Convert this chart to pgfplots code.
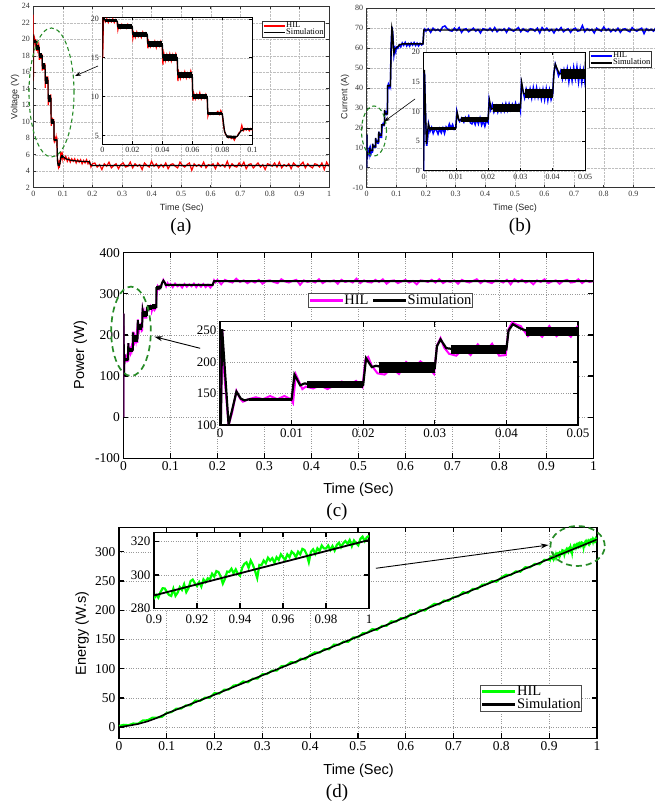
\documentclass[border=0pt]{standalone}
\usepackage{fontspec}
\setmainfont{Liberation Serif}
\setsansfont{Liberation Sans}
\usepackage{pgfplots}
\pgfplotsset{compat=1.18}
\usepackage{pgfplotstable}
\usetikzlibrary{arrows.meta}
\definecolor{ellg}{RGB}{40,140,40}
\definecolor{hilr}{RGB}{255,0,0}
\definecolor{hilb}{RGB}{0,0,255}
\definecolor{hilm}{RGB}{255,0,255}
\definecolor{hilg}{RGB}{0,255,0}

\pgfplotsset{
  base/.style={scale only axis, anchor=south west,
    scaled ticks=false,
    /pgf/number format/assume math mode=true,
    /pgf/number format/fixed,
    /pgf/number format/precision=3,
    xticklabel={\pgfmathprintnumber{\tick}},
    yticklabel={\pgfmathprintnumber{\tick}},
    tick align=inside, grid=major,
    axis background/.style={fill=white},
    legend cell align=left},
  smallax/.style={base,
    axis line style={black!80, line width=0.5pt},
    tick style={black!80, line width=0.5pt},
    major tick length=3pt,
    tick label style={font=\rmfamily\fontsize{8}{9}\selectfont, text=black!80},
    grid style={densely dotted, black!25, line width=0.4pt},
    every axis x label/.append style={font=\sffamily\fontsize{9}{10}\selectfont, text=black!85},
    every axis y label/.append style={font=\sffamily\fontsize{9}{10}\selectfont, text=black!85},
    legend style={font=\rmfamily\fontsize{8.5}{9}\selectfont, draw=black!80, line width=0.6pt, inner sep=0.6pt, row sep=-1.5pt, nodes={inner sep=0.6pt, text depth=0.15em}},
    legend image code/.code={\draw[##1] (0pt,0pt) -- (21pt,0pt);}},
  smallin/.style={base,
    axis line style={black, line width=0.8pt},
    tick style={black, line width=0.6pt},
    major tick length=3pt,
    tick label style={font=\rmfamily\fontsize{8}{9}\selectfont, text=black!85},
    grid style={densely dotted, black!25, line width=0.4pt}},
  bigax/.style={base,
    axis line style={black, line width=1.4pt},
    tick style={black, line width=1.2pt},
    major tick length=5pt,
    tick label style={font=\rmfamily\fontsize{13.5}{14}\selectfont},
    grid style={dotted, black!40, line width=0.5pt},
    every axis x label/.append style={font=\sffamily\fontsize{14.5}{16}\selectfont},
    every axis y label/.append style={font=\sffamily\fontsize{14.5}{16}\selectfont},
    legend style={font=\rmfamily\fontsize{14.5}{15}\selectfont, draw=black!70, line width=0.9pt, inner sep=0.5pt, row sep=1pt, nodes={inner sep=0.4pt, text depth=0.15em}},
    legend image code/.code={\draw[##1] (0pt,0pt) -- (33pt,0pt);}},
  bigin/.style={base,
    axis line style={black, line width=1.4pt},
    tick style={black, line width=1.2pt},
    major tick length=5pt,
    tick label style={font=\rmfamily\fontsize{13}{14}\selectfont},
    grid style={dotted, black!40, line width=0.5pt}},
}

\newcommand{\bandA}{%
\addplot[black,line width=3pt,forget plot] coordinates {(0.0015,19.75)(0.0100,19.75)};
\addplot[black,line width=4.5pt,forget plot] coordinates {(0.0103,19.0)(0.0200,19.0)};
\addplot[black,line width=5pt,forget plot] coordinates {(0.0203,18.0)(0.0300,18.0)};
\addplot[black,line width=6pt,forget plot] coordinates {(0.0303,16.75)(0.0400,16.75)};
\addplot[black,line width=6.5pt,forget plot] coordinates {(0.0403,15.0)(0.0500,15.0)};
\addplot[black,line width=6.5pt,forget plot] coordinates {(0.0503,12.8)(0.0600,12.8)};
\addplot[black,line width=5.5pt,forget plot] coordinates {(0.0603,10.0)(0.0700,10.0)};
\addplot[black,line width=2.5pt,forget plot] coordinates {(0.0703,7.8)(0.0800,7.8)};
\addplot[black,line width=2.5pt,forget plot] coordinates {(0.083,4.85)(0.089,4.75)};
\addplot[black,line width=2.5pt,forget plot] coordinates {(0.094,5.8)(0.100,5.8)};
}
\newcommand{\bandB}{%
\addplot[black,line width=3.3pt,forget plot] coordinates {(0.002,7.15)(0.0100,7.15)};
\addplot[black,line width=5pt,forget plot] coordinates {(0.0115,8.7)(0.0200,8.7)};
\addplot[black,line width=7.4pt,forget plot] coordinates {(0.0215,10.6)(0.0300,10.6)};
\addplot[black,line width=9pt,forget plot] coordinates {(0.0315,13.0)(0.0400,13.0)};
\addplot[black,line width=10pt,forget plot] coordinates {(0.0425,16.3)(0.0500,16.3)};
}
\newcommand{\bandC}{%
\addplot[black,line width=3.3pt,forget plot] coordinates {(0.004,140.7)(0.0100,140.7)};
\addplot[black,line width=7pt,forget plot] coordinates {(0.0122,164)(0.0200,164)};
\addplot[black,line width=10.5pt,forget plot] coordinates {(0.0222,191)(0.0300,191)};
\addplot[black,line width=9.5pt,forget plot] coordinates {(0.0322,220)(0.0400,220)};
\addplot[black,line width=9pt,forget plot] coordinates {(0.0428,249)(0.0500,249)};
}
\newcommand{\bandCmain}{%
\addplot[black,line width=2.5pt,forget plot] coordinates {(0.003,140.7)(0.0100,140.7)};
\addplot[black,line width=4.2pt,forget plot] coordinates {(0.0112,164)(0.0200,164)};
\addplot[black,line width=6.5pt,forget plot] coordinates {(0.0212,191)(0.0300,191)};
\addplot[black,line width=6.2pt,forget plot] coordinates {(0.0315,220)(0.0400,220)};
\addplot[black,line width=5.8pt,forget plot] coordinates {(0.0420,250)(0.0500,250)};
\addplot[black,line width=5pt,forget plot] coordinates {(0.0503,266)(0.0600,266)};
\addplot[black,line width=5pt,forget plot] coordinates {(0.0603,268)(0.0700,268)};
\addplot[black,line width=4pt,forget plot] coordinates {(0.0703,314)(0.0800,316)};
}

\begin{document}

\pgfplotstableread[row sep=\\]{x y\\
0 23\\ 0.0003 15\\ 0.0008 20.4\\ 0.0015 20.0\\ 0.002 19.6\\ 0.003 20.0\\ 0.004 19.5\\ 0.005 19.9\\ 0.006 19.6\\ 0.007 20.0\\ 0.008 19.5\\ 0.009 19.9\\ 0.0099 19.6\\
0.0104 18.6\\ 0.011 19.2\\ 0.012 18.8\\ 0.013 19.3\\ 0.014 18.9\\ 0.015 19.2\\ 0.016 18.8\\ 0.017 19.3\\ 0.018 18.9\\ 0.019 19.2\\ 0.0199 18.9\\
0.0204 17.5\\ 0.021 18.2\\ 0.022 17.6\\ 0.023 18.3\\ 0.024 17.7\\ 0.025 18.1\\ 0.026 17.6\\ 0.027 18.3\\ 0.028 17.8\\ 0.029 18.2\\ 0.0299 17.9\\
0.0304 16.2\\ 0.031 17.1\\ 0.032 16.4\\ 0.033 16.9\\ 0.034 16.5\\ 0.035 17.1\\ 0.036 16.3\\ 0.037 17.0\\ 0.038 16.5\\ 0.039 17.1\\ 0.0399 16.6\\
0.0404 14.1\\ 0.041 15.6\\ 0.042 14.6\\ 0.043 15.4\\ 0.044 14.7\\ 0.045 15.5\\ 0.046 14.6\\ 0.047 15.4\\ 0.048 14.8\\ 0.049 15.5\\ 0.0499 14.9\\
0.0504 12.0\\ 0.051 13.1\\ 0.052 12.3\\ 0.053 13.0\\ 0.054 12.5\\ 0.055 13.2\\ 0.056 12.4\\ 0.057 13.0\\ 0.058 12.5\\ 0.059 13.3\\ 0.0599 12.7\\
0.0604 9.5\\ 0.061 10.4\\ 0.062 9.7\\ 0.063 10.3\\ 0.064 9.8\\ 0.065 10.5\\ 0.066 9.7\\ 0.067 10.2\\ 0.068 9.8\\ 0.069 10.3\\ 0.0699 9.9\\
0.0704 7.5\\ 0.071 7.9\\ 0.072 7.7\\ 0.073 7.9\\ 0.074 7.7\\ 0.075 7.8\\ 0.076 7.9\\ 0.077 8.1\\ 0.078 7.7\\ 0.079 8.2\\ 0.0799 7.8\\
0.081 6.0\\ 0.082 5.2\\ 0.083 4.9\\ 0.084 4.7\\ 0.085 4.9\\ 0.086 4.6\\ 0.087 4.8\\ 0.088 4.4\\ 0.089 4.8\\ 0.090 4.9\\ 0.091 5.3\\ 0.092 5.5\\ 0.093 6.3\\ 0.094 5.6\\ 0.095 5.9\\ 0.096 5.7\\ 0.097 5.9\\ 0.098 5.6\\ 0.099 5.9\\ 0.100 5.7\\
0.105 5.4\\ 0.110 5.8\\ 0.115 5.2\\ 0.120 5.6\\ 0.125 5.1\\ 0.130 5.5\\ 0.135 5.2\\ 0.140 5.5\\ 0.145 5.0\\ 0.150 5.4\\ 0.155 5.1\\ 0.160 5.4\\ 0.165 4.9\\ 0.170 5.3\\ 0.175 5.0\\ 0.180 5.4\\ 0.185 4.9\\ 0.190 5.2\\ 0.195 4.5\\ 0.200 4.9\\
0.208 5.0\\ 0.216 4.5\\ 0.224 4.8\\ 0.232 4.2\\ 0.240 4.9\\ 0.248 4.6\\ 0.256 5.1\\ 0.264 4.4\\ 0.272 4.7\\ 0.280 4.9\\
0.288 4.3\\ 0.296 4.8\\ 0.304 5.0\\ 0.312 4.5\\ 0.320 4.6\\ 0.328 5.1\\ 0.336 4.4\\ 0.344 4.9\\ 0.352 4.6\\ 0.360 4.8\\
0.368 4.2\\ 0.376 5.0\\ 0.384 4.7\\ 0.392 4.5\\ 0.400 5.2\\ 0.408 4.6\\ 0.416 4.9\\ 0.424 4.4\\ 0.432 4.8\\ 0.440 4.5\\
0.448 5.0\\ 0.456 4.3\\ 0.464 4.8\\ 0.472 4.9\\ 0.480 4.6\\ 0.488 4.4\\ 0.496 5.1\\ 0.504 4.7\\ 0.512 4.5\\ 0.520 4.8\\
0.528 5.0\\ 0.536 4.1\\ 0.544 4.9\\ 0.552 4.6\\ 0.560 4.8\\ 0.568 4.5\\ 0.576 5.1\\ 0.584 4.4\\ 0.592 4.8\\ 0.600 4.7\\
0.608 4.9\\ 0.616 4.3\\ 0.624 5.0\\ 0.632 4.6\\ 0.640 4.8\\ 0.648 4.5\\ 0.656 5.2\\ 0.664 4.4\\ 0.672 4.9\\ 0.680 4.6\\
0.688 4.5\\ 0.696 5.0\\ 0.704 4.6\\ 0.712 5.1\\ 0.720 4.3\\ 0.728 4.8\\ 0.736 4.9\\ 0.744 4.4\\ 0.752 4.7\\ 0.760 5.0\\
0.768 4.5\\ 0.776 4.8\\ 0.784 4.2\\ 0.792 4.9\\ 0.800 4.8\\ 0.808 4.6\\ 0.816 5.0\\ 0.824 4.5\\ 0.832 5.1\\ 0.840 4.4\\
0.848 4.8\\ 0.856 4.6\\ 0.864 4.9\\ 0.872 4.3\\ 0.880 5.0\\ 0.888 4.7\\ 0.896 4.5\\ 0.904 4.8\\ 0.912 5.1\\ 0.920 4.4\\
0.928 4.9\\ 0.936 4.6\\ 0.944 4.4\\ 0.952 4.9\\ 0.960 4.8\\ 0.968 4.5\\ 0.976 5.0\\ 0.984 4.2\\ 0.992 5.1\\ 1.000 4.6\\
}\hilA

\pgfplotstableread[row sep=\\]{x y\\
0 15\\ 0.0006 20.6\\ 0.0015 19.9\\ 0.003 19.7\\ 0.0100 19.7\\ 0.0103 19.0\\ 0.0200 19.0\\ 0.0203 18.0\\ 0.0300 18.0\\ 0.0303 16.8\\ 0.0400 16.8\\ 0.0403 15.0\\ 0.0500 15.0\\ 0.0503 12.8\\ 0.0600 12.8\\ 0.0603 10.0\\ 0.0700 10.0\\ 0.0703 7.8\\ 0.0800 7.8\\ 0.0815 5.5\\ 0.083 4.9\\ 0.086 4.75\\ 0.088 4.7\\ 0.090 4.9\\ 0.0925 5.6\\ 0.095 5.8\\ 0.100 5.8\\ 0.110 5.5\\ 0.130 5.3\\ 0.160 5.2\\ 0.190 5.15\\ 0.193 4.8\\ 0.200 4.7\\ 1 4.7\\
}\simA

\pgfplotstableread[row sep=\\]{x y\\
0 0\\ 0.0003 16.5\\ 0.0007 8\\ 0.001 4.2\\ 0.0013 5.5\\ 0.0016 7.8\\ 0.002 6.6\\ 0.0025 7.3\\ 0.003 6.3\\ 0.0035 7.0\\ 0.004 6.9\\ 0.0045 6.2\\ 0.005 7.1\\ 0.0055 6.4\\ 0.006 7.2\\ 0.0065 6.3\\ 0.007 7.4\\ 0.0075 7.0\\ 0.008 7.9\\ 0.0085 7.2\\ 0.009 7.8\\ 0.0095 7.0\\ 0.0100 7.3\\
0.0103 10.0\\ 0.0108 8.7\\ 0.0112 8.3\\ 0.0118 8.9\\ 0.0125 8.2\\ 0.013 9.0\\ 0.0135 8.5\\ 0.014 9.2\\ 0.0145 8.1\\ 0.015 7.9\\ 0.0155 8.6\\ 0.016 7.8\\ 0.0165 8.7\\ 0.017 7.9\\ 0.0175 8.9\\ 0.018 7.7\\ 0.0185 8.4\\ 0.019 7.5\\ 0.0195 8.5\\ 0.0200 8.1\\
0.0203 11.9\\ 0.0208 10.3\\ 0.0213 11.2\\ 0.0218 9.9\\ 0.0225 10.9\\ 0.023 9.9\\ 0.0235 10.8\\ 0.024 10.0\\ 0.0245 11.1\\ 0.025 10.1\\ 0.0255 11.3\\ 0.026 10.2\\ 0.0265 11.3\\ 0.027 10.3\\ 0.0275 11.2\\ 0.028 10.4\\ 0.0285 11.4\\ 0.029 10.3\\ 0.0295 11.1\\ 0.0300 10.0\\
0.0303 14.8\\ 0.0308 13.4\\ 0.0313 12.3\\ 0.0318 13.8\\ 0.0325 12.5\\ 0.033 13.8\\ 0.0335 12.3\\ 0.034 14.0\\ 0.0345 12.5\\ 0.035 14.0\\ 0.0355 12.4\\ 0.036 13.6\\ 0.0365 12.1\\ 0.037 13.7\\ 0.0375 12.0\\ 0.038 13.8\\ 0.0385 11.9\\ 0.039 13.6\\ 0.0395 12.0\\ 0.0400 12.9\\
0.0403 16.2\\ 0.0408 18.0\\ 0.0413 17.1\\ 0.0418 16.0\\ 0.0425 16.9\\ 0.043 15.5\\ 0.0435 17.0\\ 0.044 15.7\\ 0.0445 17.2\\ 0.045 15.0\\ 0.0455 16.9\\ 0.046 15.2\\ 0.0465 17.4\\ 0.047 15.6\\ 0.0475 17.5\\ 0.048 15.0\\ 0.0485 17.1\\ 0.049 14.9\\ 0.0495 16.9\\ 0.0500 14.8\\
0.052 21.0\\ 0.055 22.0\\ 0.058 21.3\\ 0.060 22.5\\ 0.0605 28.5\\ 0.062 27.0\\ 0.065 27.8\\ 0.068 26.8\\ 0.070 27.5\\ 0.0705 40.5\\ 0.073 41.8\\ 0.076 40.2\\ 0.079 41.5\\ 0.080 41.0\\ 0.082 60\\ 0.085 70.5\\ 0.0875 68.0\\ 0.090 62\\ 0.092 56.5\\ 0.095 59.5\\ 0.098 58\\ 0.100 60.5\\
0.105 59.8\\ 0.110 61.5\\ 0.115 60.5\\ 0.120 62.5\\ 0.125 61.3\\ 0.130 62.8\\ 0.135 61.0\\ 0.140 62.2\\ 0.145 60.9\\ 0.150 62.5\\ 0.155 61.4\\ 0.160 62.7\\ 0.165 61.2\\ 0.170 62.4\\ 0.175 61.0\\ 0.180 62.3\\ 0.185 61.5\\ 0.190 62.0\\ 0.193 68.8\\ 0.196 69.5\\ 0.200 68.4\\
0.208 69.6\\ 0.216 67.8\\ 0.224 69.9\\ 0.232 68.7\\ 0.240 69.3\\ 0.248 68.4\\ 0.256 70.5\\ 0.264 71.0\\ 0.272 69.6\\ 0.280 68.7\\
0.288 68.4\\ 0.296 69.9\\ 0.304 68.7\\ 0.312 70.2\\ 0.320 67.8\\ 0.328 69.3\\ 0.336 69.6\\ 0.344 68.1\\ 0.352 69.0\\ 0.360 69.9\\
0.368 68.4\\ 0.376 69.3\\ 0.384 67.5\\ 0.392 69.6\\ 0.400 69.3\\ 0.408 68.7\\ 0.416 69.9\\ 0.424 68.4\\ 0.432 70.2\\ 0.440 68.1\\
0.448 69.3\\ 0.456 68.7\\ 0.464 69.6\\ 0.472 67.8\\ 0.480 69.9\\ 0.488 69.0\\ 0.496 68.4\\ 0.504 69.3\\ 0.512 70.2\\ 0.520 68.1\\
0.528 69.6\\ 0.536 68.7\\ 0.544 68.1\\ 0.552 69.6\\ 0.560 69.3\\ 0.568 68.4\\ 0.576 69.9\\ 0.584 67.5\\ 0.592 70.2\\ 0.600 68.7\\
0.608 69.9\\ 0.616 68.4\\ 0.624 69.3\\ 0.632 67.5\\ 0.640 69.6\\ 0.648 68.7\\ 0.656 70.2\\ 0.664 68.1\\ 0.672 69.0\\ 0.680 69.6\\
0.688 67.8\\ 0.696 69.3\\ 0.704 69.9\\ 0.712 68.4\\ 0.720 68.7\\ 0.728 71.2\\ 0.736 68.1\\ 0.744 69.6\\ 0.752 68.7\\ 0.760 69.3\\
0.768 67.5\\ 0.776 69.9\\ 0.784 69.0\\ 0.792 68.4\\ 0.800 70.5\\ 0.808 68.7\\ 0.816 69.6\\ 0.824 68.1\\ 0.832 69.3\\ 0.840 68.4\\
0.848 69.9\\ 0.856 67.8\\ 0.864 69.3\\ 0.872 69.6\\ 0.880 68.7\\ 0.888 68.1\\ 0.896 70.2\\ 0.904 69.0\\ 0.912 68.4\\ 0.920 69.3\\
0.928 69.9\\ 0.936 67.2\\ 0.944 69.6\\ 0.952 68.7\\ 0.960 69.3\\ 0.968 68.4\\ 0.976 70.2\\ 0.984 68.1\\ 0.992 69.3\\ 1.000 69.0\\
}\hilB

\pgfplotstableread[row sep=\\]{x y\\
0 0\\ 0.0003 17\\ 0.0009 4.5\\ 0.0015 7.9\\ 0.002 6.9\\ 0.003 7.15\\ 0.0100 7.15\\ 0.0104 9.9\\ 0.011 8.5\\ 0.012 8.7\\ 0.0200 8.7\\ 0.0204 12.0\\ 0.021 10.4\\ 0.022 10.6\\ 0.0300 10.6\\ 0.0304 14.9\\ 0.031 13.0\\ 0.0400 13.0\\ 0.0404 16.5\\ 0.0408 18.0\\ 0.042 16.4\\ 0.043 16.3\\ 0.0500 16.3\\
0.0503 21.5\\ 0.060 21.5\\ 0.0603 29\\ 0.062 27\\ 0.070 27\\ 0.0703 41\\ 0.080 41\\ 0.082 55\\ 0.085 70\\ 0.0875 68\\ 0.090 60\\ 0.092 57.5\\ 0.095 59.5\\ 0.100 60\\ 0.110 61.5\\ 0.120 62\\ 0.190 62\\ 0.193 69\\ 1 69\\
}\simB

\pgfplotstableread[row sep=\\]{x y\\
0 0\\ 0.0003 252\\ 0.0006 180\\ 0.0012 100\\ 0.0017 120\\ 0.0023 154\\ 0.0028 142\\ 0.0032 137\\ 0.004 141\\ 0.005 144\\ 0.006 141\\ 0.007 146\\ 0.008 141\\ 0.009 146\\ 0.0099 141\\
0.0102 135\\ 0.0106 180\\ 0.011 170\\ 0.0115 157\\ 0.012 161\\ 0.013 158\\ 0.014 163\\ 0.015 157\\ 0.016 163\\ 0.017 169\\ 0.018 163\\ 0.019 170\\ 0.0199 160\\
0.0203 204\\ 0.0207 208\\ 0.0212 194\\ 0.022 182\\ 0.023 180\\ 0.024 190\\ 0.025 181\\ 0.026 200\\ 0.027 190\\ 0.028 201\\ 0.029 192\\ 0.0299 181\\
0.0303 226\\ 0.0308 238\\ 0.0313 223\\ 0.032 213\\ 0.033 210\\ 0.034 222\\ 0.035 211\\ 0.036 228\\ 0.037 216\\ 0.038 229\\ 0.039 210\\ 0.0399 211\\
0.0403 252\\ 0.0408 263\\ 0.0415 259\\ 0.042 257\\ 0.043 241\\ 0.044 250\\ 0.045 240\\ 0.046 257\\ 0.047 241\\ 0.048 250\\ 0.049 240\\ 0.0499 256\\
0.052 268\\ 0.055 262\\ 0.058 270\\ 0.060 265\\ 0.0605 258\\ 0.063 267\\ 0.066 260\\ 0.069 265\\ 0.071 300\\ 0.073 318\\ 0.076 312\\ 0.079 320\\ 0.082 325\\ 0.085 334\\ 0.088 328\\ 0.091 318\\ 0.094 326\\ 0.097 320\\ 0.100 324\\
0.105 316\\ 0.110 325\\ 0.115 318\\ 0.120 322\\ 0.125 315\\ 0.130 324\\ 0.135 317\\ 0.140 323\\ 0.145 318\\ 0.150 325\\ 0.155 316\\ 0.160 323\\ 0.165 317\\ 0.170 324\\ 0.175 316\\ 0.180 322\\ 0.185 315\\ 0.190 321\\ 0.193 333\\ 0.196 328\\ 0.200 334\\
0.208 323\\ 0.216 334.2\\ 0.224 330\\ 0.232 327.2\\ 0.240 337\\ 0.248 328.6\\ 0.256 332.8\\ 0.264 325.8\\ 0.272 331.4\\ 0.280 327.2\\
0.288 334.2\\ 0.296 324.4\\ 0.304 331.4\\ 0.312 332.8\\ 0.320 328.6\\ 0.328 325.8\\ 0.336 335.6\\ 0.344 330\\ 0.352 327.2\\ 0.360 331.4\\
0.368 334.2\\ 0.376 321.6\\ 0.384 332.8\\ 0.392 328.6\\ 0.400 331.4\\ 0.408 327.2\\ 0.416 335.6\\ 0.424 325.8\\ 0.432 331.4\\ 0.440 330\\
0.448 332.8\\ 0.456 324.4\\ 0.464 334.2\\ 0.472 328.6\\ 0.480 331.4\\ 0.488 327.2\\ 0.496 337\\ 0.504 325.8\\ 0.512 332.8\\ 0.520 328.6\\
0.528 327.2\\ 0.536 334.2\\ 0.544 328.6\\ 0.552 335.6\\ 0.560 324.4\\ 0.568 331.4\\ 0.576 332.8\\ 0.584 325.8\\ 0.592 330\\ 0.600 334.2\\
0.608 327.2\\ 0.616 331.4\\ 0.624 323\\ 0.632 332.8\\ 0.640 331.4\\ 0.648 328.6\\ 0.656 334.2\\ 0.664 327.2\\ 0.672 335.6\\ 0.680 325.8\\
0.688 331.4\\ 0.696 328.6\\ 0.704 332.8\\ 0.712 324.4\\ 0.720 334.2\\ 0.728 330\\ 0.736 327.2\\ 0.744 331.4\\ 0.752 335.6\\ 0.760 325.8\\
0.768 332.8\\ 0.776 328.6\\ 0.784 325.8\\ 0.792 332.8\\ 0.800 331.4\\ 0.808 327.2\\ 0.816 334.2\\ 0.824 323\\ 0.832 335.6\\ 0.840 328.6\\
0.848 334.2\\ 0.856 327.2\\ 0.864 331.4\\ 0.872 323\\ 0.880 332.8\\ 0.888 328.6\\ 0.896 335.6\\ 0.904 325.8\\ 0.912 330\\ 0.920 332.8\\
0.928 324.4\\ 0.936 331.4\\ 0.944 334.2\\ 0.952 327.2\\ 0.960 328.6\\ 0.968 335.6\\ 0.976 325.8\\ 0.984 332.8\\ 0.992 328.6\\ 1.000 331.4\\
}\hilC

\pgfplotstableread[row sep=\\]{x y\\
0 0\\ 0.0003 252\\ 0.0012 100\\ 0.0023 153\\ 0.0029 142\\ 0.0034 139\\ 0.004 140.7\\ 0.0100 140.7\\ 0.0104 180\\ 0.0112 163\\ 0.0118 166\\ 0.013 164\\ 0.0200 164\\ 0.0204 206\\ 0.0212 192\\ 0.0218 194\\ 0.023 191\\ 0.0300 191\\ 0.0303 225\\ 0.0308 236\\ 0.0316 222\\ 0.033 220\\ 0.0400 220\\ 0.0403 250\\ 0.0409 260\\ 0.042 253\\ 0.043 249\\ 0.0500 249\\
0.0503 266\\ 0.0600 266\\ 0.0603 268\\ 0.0700 268\\ 0.0703 314\\ 0.0800 316\\ 0.082 326\\ 0.085 332\\ 0.088 327\\ 0.090 322\\ 0.190 322\\ 0.193 331\\ 1 331\\
}\simC

\pgfplotstableread[row sep=\\]{x y\\
0 2\\ 0.01 4.2\\ 0.02 3.5\\ 0.03 6.4\\ 0.04 6\\ 0.05 11.6\\ 0.06 12\\ 0.07 16.3\\ 0.08 16.5\\ 0.09 17.6\\
0.10 24.5\\ 0.11 25.7\\ 0.12 31.9\\ 0.13 31.6\\ 0.14 37.3\\ 0.15 37.5\\ 0.16 45.7\\ 0.17 44.9\\ 0.18 50.6\\ 0.19 50.3\\
0.20 58.5\\ 0.21 57.3\\ 0.22 64.1\\ 0.23 64.5\\ 0.24 71.3\\ 0.25 72.6\\ 0.26 78.4\\ 0.27 76.7\\ 0.28 83.1\\ 0.29 82.9\\
0.30 90.7\\ 0.31 91.0\\ 0.32 96.8\\ 0.33 96.6\\ 0.34 104.5\\ 0.35 105.3\\ 0.36 111.6\\ 0.37 110.4\\ 0.38 117.2\\ 0.39 116.1\\
0.40 123.4\\ 0.41 128.2\\ 0.42 127.5\\ 0.43 133.8\\ 0.44 133.2\\ 0.45 141.5\\ 0.46 140.8\\ 0.47 146.6\\ 0.48 145.9\\ 0.49 153.7\\
0.50 153.6\\ 0.51 160.9\\ 0.52 161.7\\ 0.53 168.0\\ 0.54 166.3\\ 0.55 173.2\\ 0.56 173.5\\ 0.57 181.3\\ 0.58 180.6\\ 0.59 186.9\\
0.60 185.8\\ 0.61 193.6\\ 0.62 193.9\\ 0.63 200.7\\ 0.64 199.5\\ 0.65 205.8\\ 0.66 211.2\\ 0.67 210.0\\ 0.68 216.8\\ 0.69 216.1\\
0.70 222.9\\ 0.71 223.8\\ 0.72 231.1\\ 0.73 229.4\\ 0.74 236.7\\ 0.75 236.5\\ 0.76 243.9\\ 0.77 244.7\\ 0.78 250.0\\ 0.79 248.8\\
0.80 256.1\\ 0.81 260.9\\ 0.82 260.3\\ 0.83 266.6\\ 0.84 265.9\\ 0.85 273.7\\ 0.86 273.5\\ 0.87 279.4\\ 0.88 278.7\\ 0.89 286.5\\
0.900 286.0\\ 0.901 288.1\\ 0.902 286.5\\ 0.903 289.8\\ 0.904 292.1\\ 0.905 292.0\\ 0.906 289.8\\ 0.907 288.1\\ 0.908 287.5\\ 0.909 291.8\\ 0.910 287.6\\
0.911 289.5\\ 0.912 292.8\\ 0.913 291.1\\ 0.914 294.5\\ 0.915 289.8\\ 0.916 292.1\\ 0.917 296.4\\ 0.918 297.3\\ 0.919 295.1\\ 0.920 293.4\\
0.921 295.8\\ 0.922 293.1\\ 0.923 297.4\\ 0.924 295.8\\ 0.925 298.1\\ 0.926 297.4\\ 0.927 300.8\\ 0.928 299.1\\ 0.929 302.4\\ 0.930 301.8\\
0.931 299.1\\ 0.932 294.9\\ 0.933 297.8\\ 0.934 302.1\\ 0.935 301.9\\ 0.936 303.8\\ 0.937 301.1\\ 0.938 303.4\\ 0.939 300.8\\ 0.940 299.6\\
0.941 304.4\\ 0.942 306.7\\ 0.943 307.6\\ 0.944 304.4\\ 0.945 308.7\\ 0.946 306.1\\ 0.947 302.4\\ 0.948 298.2\\ 0.949 306.1\\ 0.950 305.9\\
0.951 308.7\\ 0.952 307.1\\ 0.953 310.4\\ 0.954 308.7\\ 0.955 310.1\\ 0.956 307.4\\ 0.957 310.7\\ 0.958 309.1\\ 0.959 312.4\\ 0.960 310.7\\
0.961 309.1\\ 0.962 312.4\\ 0.963 310.7\\ 0.964 314.1\\ 0.965 312.9\\ 0.966 310.7\\ 0.967 314.0\\ 0.968 312.4\\ 0.969 315.7\\ 0.970 315.0\\
0.971 312.4\\ 0.972 307.7\\ 0.973 314.0\\ 0.974 315.4\\ 0.975 312.7\\ 0.976 316.0\\ 0.977 314.4\\ 0.978 317.7\\ 0.979 316.0\\ 0.980 315.9\\
0.981 317.7\\ 0.982 315.0\\ 0.983 317.4\\ 0.984 314.7\\ 0.985 318.0\\ 0.986 319.4\\ 0.987 316.7\\ 0.988 319.0\\ 0.989 320.4\\ 0.990 318.7\\
0.991 321.0\\ 0.992 317.3\\ 0.993 320.7\\ 0.994 319.0\\ 0.995 317.8\\ 0.996 321.7\\ 0.997 323.0\\ 0.998 320.3\\ 0.999 322.7\\ 1.000 323.5\\
}\hilD

\pgfplotstableread[row sep=\\]{x y\\
0 0\\ 0.02 2.5\\ 0.04 5.5\\ 0.06 10\\ 0.08 16\\ 0.1 23.5\\ 0.15 39.5\\ 0.2 55.5\\ 0.9 287.8\\ 1 321\\
}\simD

\begin{tikzpicture}
% ================= (a) =================
\begin{axis}[smallax, at={(33.3pt,616.3pt)}, width=295.7pt, height=181.4pt,
  xmin=0, xmax=1, ymin=2, ymax=24,
  xtick={0,0.1,0.2,0.3,0.4,0.5,0.6,0.7,0.8,0.9,1}, ytick={2,4,6,8,10,12,14,16,18,20,22,24},
  xlabel={Time (Sec)}, ylabel={Voltage (V)},
  xlabel style={at={(axis description cs:0.502,-0.1136)}, anchor=center},
  ylabel style={at={(axis description cs:-0.0619,0.5)}, anchor=center},
  legend style={at={(0.9865,0.9206)}, anchor=north east}]
\addplot[hilr, line width=1.2pt, forget plot] table[x=x,y=y]{\hilA};
\bandA
\addplot[black, line width=1.2pt, forget plot] table[x=x,y=y]{\simA};
\addlegendimage{hilr, line width=1.6pt}\addlegendentry{HIL}
\addlegendimage{black, line width=1.6pt}\addlegendentry{Simulation}
\end{axis}
\begin{axis}[smallin, at={(102.3pt,660pt)}, width=150pt, height=126.7pt,
  xmin=0, xmax=0.1, ymin=3.9, ymax=20.2,
  xtick={0,0.02,0.04,0.06,0.08,0.1}, ytick={5,10,15,20}]
\addplot[hilr, line width=1.2pt] table[x=x,y=y]{\hilA};
\bandA
\addplot[black, line width=1.3pt] table[x=x,y=y]{\simA};
\end{axis}
% ================= (b) =================
\begin{axis}[smallax, at={(366.7pt,616.3pt)}, width=296.3pt, height=179.7pt,
  xmin=0, xmax=1, ymin=-10, ymax=80,
  xtick={0,0.1,0.2,0.3,0.4,0.5,0.6,0.7,0.8,0.9}, ytick={-10,0,10,20,30,40,50,60,70,80},
  xlabel={Time (Sec)}, ylabel={Current (A)},
  xlabel style={at={(axis description cs:0.5005,-0.113)}, anchor=center},
  ylabel style={at={(axis description cs:-0.0732,0.505)}, anchor=center},
  legend style={at={(0.750,0.762)}, anchor=north west}]
\addplot[hilb, line width=1.5pt, forget plot] table[x=x,y=y]{\hilB};
\addplot[black, line width=1.4pt, forget plot] table[x=x,y=y]{\simB};
\addlegendimage{hilb, line width=1.6pt}\addlegendentry{HIL}
\addlegendimage{black, line width=1.6pt}\addlegendentry{Simulation}
\end{axis}
\begin{axis}[smallin, at={(423.5pt,633.2pt)}, width=161.5pt, height=118.6pt,
  xmin=0, xmax=0.05, ymin=0, ymax=20,
  xtick={0,0.01,0.02,0.03,0.04,0.05}, ytick={0,5,10,15,20}]
\addplot[hilb, line width=1.5pt] table[x=x,y=y]{\hilB};
\bandB
\addplot[black, line width=1.3pt] table[x=x,y=y]{\simB};
\end{axis}
% ================= (c) =================
\begin{axis}[bigax, at={(123.4pt,345.7pt)}, width=470pt, height=205.6pt,
  xmin=0, xmax=1, ymin=-100, ymax=400,
  xtick={0,0.1,0.2,0.3,0.4,0.5,0.6,0.7,0.8,0.9,1}, ytick={-100,0,100,200,300,400},
  xlabel={Time (Sec)}, ylabel={Power (W)},
  xlabel style={at={(axis description cs:0.5004,-0.1508)}, anchor=center},
  ylabel style={at={(axis description cs:-0.0917,0.502)}, anchor=center},
  legend columns=2,
  legend style={at={(0.392,0.8025)}, anchor=north west, /tikz/every even column/.append style={column sep=3pt}}]
\addplot[hilm, line width=1.8pt, forget plot] table[x=x,y=y]{\hilC};
\bandCmain
\addplot[black, line width=2pt, forget plot] table[x=x,y=y]{\simC};
\addlegendimage{hilm, line width=2.4pt}\addlegendentry{HIL}
\addlegendimage{black, line width=2.4pt}\addlegendentry{Simulation}
\end{axis}
\begin{axis}[bigin, at={(220pt,379pt)}, width=358pt, height=103.3pt,
  xmin=0, xmax=0.05, ymin=100, ymax=264,
  xtick={0,0.01,0.02,0.03,0.04,0.05}, ytick={100,150,200,250}]
\addplot[hilm, line width=2pt] table[x=x,y=y]{\hilC};
\bandC
\addplot[black, line width=2.2pt] table[x=x,y=y]{\simC};
\end{axis}
% ================= (d) =================
\begin{axis}[bigax, at={(118.9pt,65.7pt)}, width=478pt, height=211pt,
  xmin=0, xmax=1, ymin=-19, ymax=342,
  xtick={0,0.1,0.2,0.3,0.4,0.5,0.6,0.7,0.8,0.9,1}, ytick={0,50,100,150,200,250,300},
  xlabel={Time (Sec)}, ylabel={Energy (W.s)},
  xlabel style={at={(axis description cs:0.5015,-0.1536)}, anchor=center},
  ylabel style={at={(axis description cs:-0.0772,0.4976)}, anchor=center},
  legend style={at={(0.969,0.126)}, anchor=south east}]
\addplot[hilg, line width=2pt, forget plot] table[x=x,y=y]{\hilD};
\addplot[black, line width=1.6pt, forget plot] table[x=x,y=y]{\simD};
\addlegendimage{hilg, line width=2.4pt}\addlegendentry{HIL}
\addlegendimage{black, line width=2.4pt}\addlegendentry{Simulation}
\end{axis}
\begin{axis}[bigin, at={(154pt,195.5pt)}, width=215pt, height=76pt,
  xmin=0.9, xmax=1, ymin=280, ymax=325.5,
  xtick={0.9,0.92,0.94,0.96,0.98,1}, ytick={280,300,320},
  xticklabel style={yshift=-2.5pt}]
\addplot[hilg, line width=2.2pt] table[x=x,y=y]{\hilD};
\addplot[black, line width=1.8pt] table[x=x,y=y]{\simD};
\end{axis}
% ================= annotations =================
\draw[ellg, line width=1.1pt, dash pattern=on 4pt off 3pt] (51.5pt,711.5pt) ellipse [x radius=22.5pt, y radius=64.5pt];
\draw[black, line width=0.6pt, -{Stealth[length=6pt,width=4pt]}] (98pt,738pt) -- (75pt,728pt);
\draw[ellg, line width=1.1pt, dash pattern=on 4pt off 3pt] (374pt,673pt) ellipse [x radius=12.5pt, y radius=25pt];
\draw[black, line width=0.6pt, -{Stealth[length=6pt,width=4pt]}] (415pt,705pt) -- (384pt,682.3pt);
\draw[ellg, line width=1.7pt, dash pattern=on 6pt off 4pt] (131pt,472.7pt) ellipse [x radius=19.8pt, y radius=44.7pt];
\draw[black, line width=0.9pt, -{Stealth[length=8pt,width=5pt]}] (200.2pt,455.7pt) -- (154.4pt,467.3pt);
\draw[ellg, line width=1.7pt, dash pattern=on 6pt off 4pt] (577.6pt,258pt) ellipse [x radius=27.2pt, y radius=20pt];
\draw[black, line width=0.9pt, -{Stealth[length=8pt,width=5pt]}] (375.8pt,235.7pt) -- (548.6pt,259pt);
% captions
\node[font=\rmfamily\fontsize{19}{20}\selectfont] at (181pt,577pt) {(a)};
\node[font=\rmfamily\fontsize{19}{20}\selectfont] at (520pt,577pt) {(b)};
\node[font=\rmfamily\fontsize{19}{20}\selectfont] at (337pt,292.3pt) {(c)};
\node[font=\rmfamily\fontsize{19}{20}\selectfont] at (337pt,11.3pt) {(d)};
\pgfresetboundingbox
\path[use as bounding box] (0pt,0pt) rectangle (655pt,804pt);
\end{tikzpicture}
\end{document}
